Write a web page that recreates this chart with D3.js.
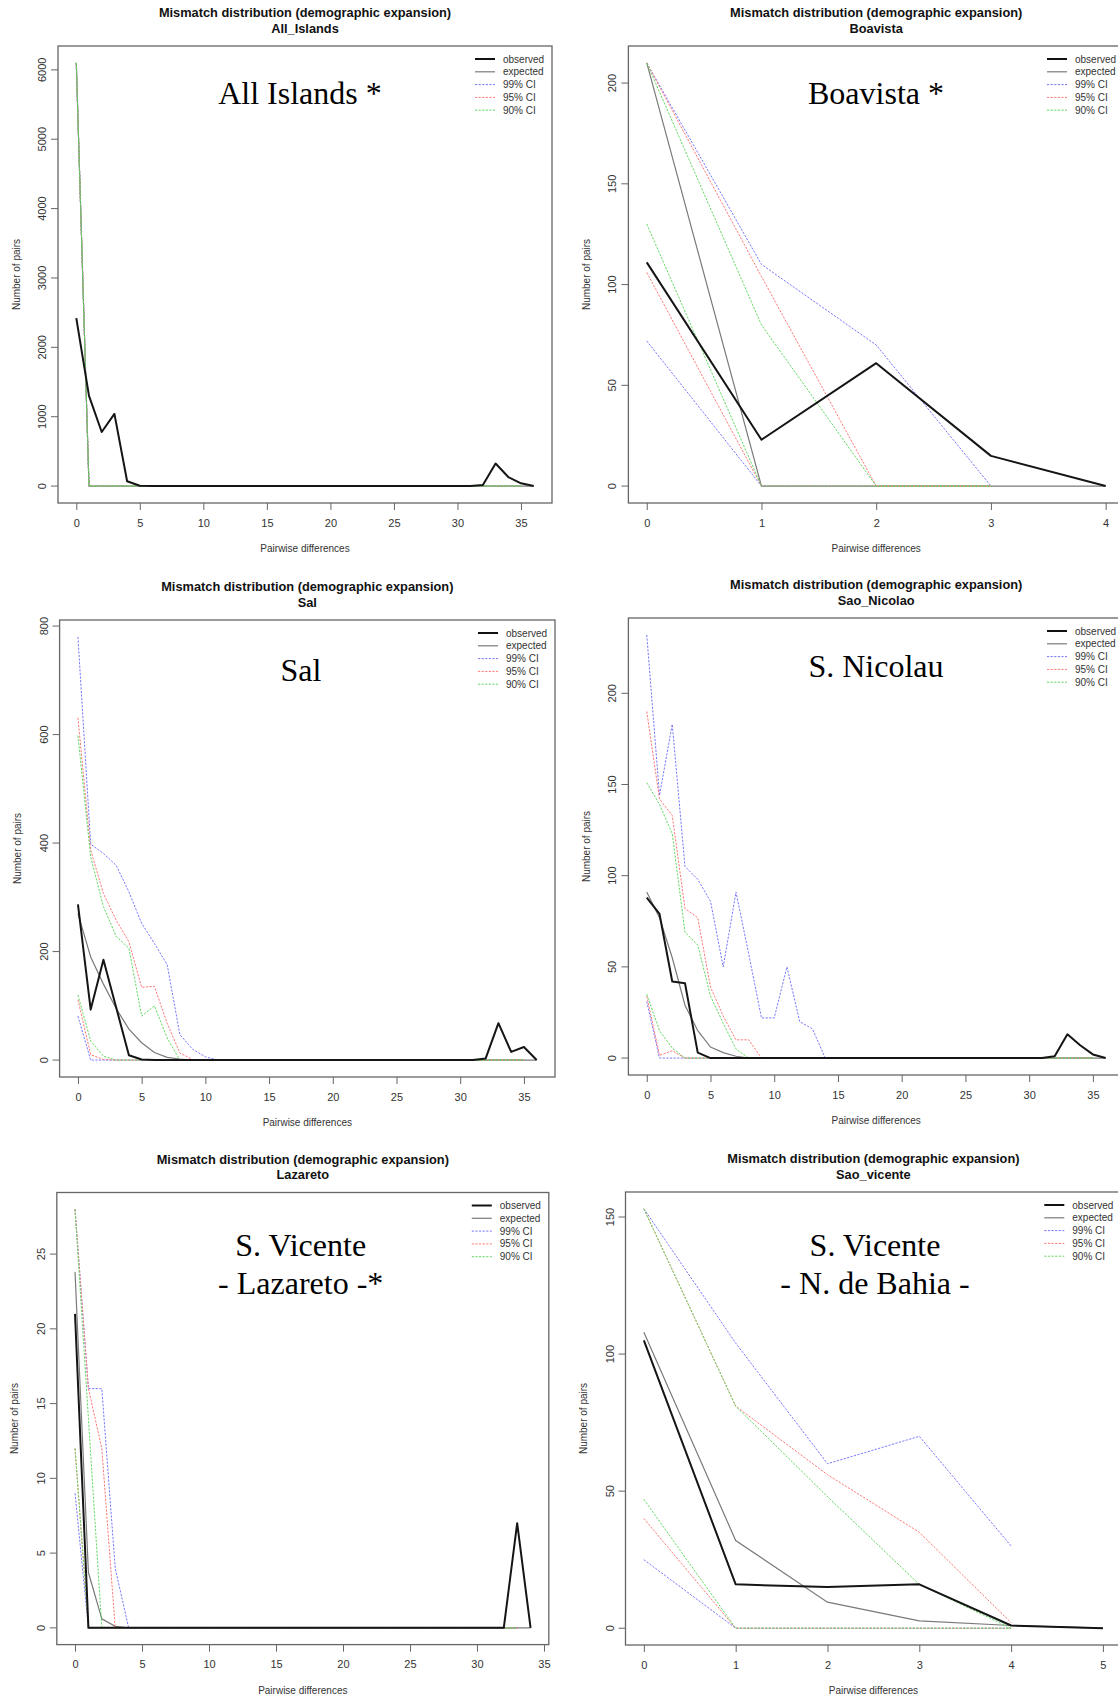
<!DOCTYPE html>
<html><head><meta charset="utf-8">
<script src="https://cdn.jsdelivr.net/npm/d3@7"></script>
<style>body{margin:0;background:#fff}</style>
</head><body>
<svg id="c" width="1118" height="1704"></svg>
<script>
// ---------------- DATA ----------------
const plotTitle = "Mismatch distribution (demographic expansion)";
const xAxisTitle = "Pairwise differences";
const yAxisTitle = "Number of pairs";
const legendLabels = ["observed", "expected", "99% CI", "95% CI", "90% CI"];
const panelNames = ["All_Islands", "Boavista", "Sal", "Sao_Nicolao", "Lazareto", "Sao_vicente"];
const panelAnnotations = [["All Islands *"], ["Boavista *"], ["Sal"], ["S. Nicolau"], ["S. Vicente", "- Lazareto -*"], ["S. Vicente", "- N. de Bahia -"]];

// All_Islands
const allObserved = [2420,1300,780,1040,70,5, 0,0,0,0,0,0,0,0,0,0, 0,0,0,0,0,0,0,0,0,0, 0,0,0,0,0,0, 15,325,130,40,0];
const allExpected = [6100, 0,0,0,0,0,0,0,0,0,0, 0,0,0,0,0,0,0,0,0,0, 0,0,0,0,0,0,0,0,0,0, 0,0,0,0,0,0];
const allCI = [6100, 0,0,0,0,0,0,0,0,0,0, 0,0,0,0,0,0,0,0,0,0, 0,0,0,0,0,0,0,0,0,0, 0,0,0,0,0];
const allXTicks = [0,5,10,15,20,25,30,35];
const allYTicks = [0,1000,2000,3000,4000,5000,6000];

// Boavista
const boaObserved = [111,23,61,15,0];
const boaExpected = [210,0,0,0,0];
const boaCI99Upper = [210,110,70,0];
const boaCI99Lower = [72,0,0,0];
const boaCI95Upper = [210,104,0,0];
const boaCI95Lower = [106,0,0,0];
const boaCI90Upper = [210,80,0,0];
const boaCI90Lower = [130,0,0,0];
const boaXTicks = [0,1,2,3,4];
const boaYTicks = [0,50,100,150,200];

// Sal
const salObserved = [287,93,185,97,9,1, 0,0,0,0,0,0,0,0,0,0, 0,0,0,0,0,0,0,0,0,0, 0,0,0,0,0,0, 3,68,15,24,0];
const salExpected = [270,190,140,95,57,32,14,5,2,0, 0,0,0,0,0,0,0,0,0,0, 0,0,0,0,0,0,0,0,0,0, 0,0,0,0,0,0,0];
const salCI99Upper = [780,398,381,359,310,252,215,176,47,20,6,0, 0,0,0,0,0,0,0,0,0,0, 0,0,0,0,0,0,0,0,0,0, 0,0,0,0];
const salCI99Lower = [81, 0,0,0,0,0,0,0,0,0,0, 0,0,0,0,0,0,0,0,0,0, 0,0,0,0,0,0,0,0,0,0, 0,0,0,0,0];
const salCI95Upper = [631,387,307,258,218,134,136,68,13,1,0, 0,0,0,0,0,0,0,0,0,0, 0,0,0,0,0,0,0,0,0,0, 0,0,0,0,0];
const salCI95Lower = [111,10,1, 0,0,0,0,0,0,0,0,0,0, 0,0,0,0,0,0,0,0,0,0, 0,0,0,0,0,0,0,0,0,0, 0,0,0];
const salCI90Upper = [598,374,283,228,206,81,100,41,0, 0,0,0,0,0,0,0,0,0,0, 0,0,0,0,0,0,0,0,0,0, 0,0,0,0,0,0,0];
const salCI90Lower = [120,35,7, 0,0,0,0,0,0,0,0,0,0, 0,0,0,0,0,0,0,0,0,0, 0,0,0,0,0,0,0,0,0,0, 0,0,0];
const salXTicks = [0,5,10,15,20,25,30,35];
const salYTicks = [0,200,400,600,800];

// Sao_Nicolao
const nicObserved = [88,79,42,41,3,0, 0,0,0,0,0,0,0,0,0,0, 0,0,0,0,0,0,0,0,0,0, 0,0,0,0,0,0, 1,13,7,2,0];
const nicExpected = [91,77,55,29,15,6,3,1,0, 0,0,0,0,0,0,0,0,0,0, 0,0,0,0,0,0,0,0,0,0, 0,0,0,0,0,0,0,0];
const nicCI99Upper = [232,144,183,105,98,86,50,91,57,22,22,50,20,16,0, 0,0,0,0,0,0,0,0,0,0, 0,0,0,0,0,0,0,0,0,0, 0];
const nicCI99Lower = [31, 0,0,0,0,0,0,0,0,0,0, 0,0,0,0,0,0,0,0,0,0, 0,0,0,0,0,0,0,0,0,0, 0,0,0,0,0];
const nicCI95Upper = [190,142,133,82,77,39,23,10,10,0, 0,0,0,0,0,0,0,0,0,0, 0,0,0,0,0,0,0,0,0,0, 0,0,0,0,0,0];
const nicCI95Lower = [34,1.5,4,0, 0,0,0,0,0,0,0,0,0,0, 0,0,0,0,0,0,0,0,0,0, 0,0,0,0,0,0,0,0,0,0, 0,0];
const nicCI90Upper = [151,139,123,69,62,34,19,5,0, 0,0,0,0,0,0,0,0,0,0, 0,0,0,0,0,0,0,0,0,0, 0,0,0,0,0,0,0];
const nicCI90Lower = [35,15,5.5,0, 0,0,0,0,0,0,0,0,0,0, 0,0,0,0,0,0,0,0,0,0, 0,0,0,0,0,0,0,0,0,0, 0,0];
const nicXTicks = [0,5,10,15,20,25,30,35];
const nicYTicks = [0,50,100,150,200];

// Lazareto
const lazObserved = [21, 0,0,0,0,0,0,0,0,0,0, 0,0,0,0,0,0,0,0,0,0, 0,0,0,0,0,0,0,0,0,0, 0,0, 7,0];
const lazExpected = [23.8,3.7,0.6,0.1, 0,0,0,0,0,0,0,0,0,0, 0,0,0,0,0,0,0,0,0,0, 0,0,0,0,0,0,0,0,0,0, 0];
const lazCI99Upper = [28,16,16,4, 0,0,0,0,0,0,0,0,0,0, 0,0,0,0,0,0,0,0,0,0, 0,0,0,0,0,0,0,0,0,0];
const lazCI99Lower = [9, 0,0,0,0,0,0,0,0,0,0, 0,0,0,0,0,0,0,0,0,0, 0,0,0,0,0,0,0,0,0,0, 0,0,0];
const lazCI95Upper = [28,16,12, 0,0,0,0,0,0,0,0,0,0, 0,0,0,0,0,0,0,0,0,0, 0,0,0,0,0,0,0,0,0,0, 0];
const lazCI95Lower = [12, 0,0,0,0,0,0,0,0,0,0, 0,0,0,0,0,0,0,0,0,0, 0,0,0,0,0,0,0,0,0,0, 0,0,0];
const lazCI90Upper = [28,14, 0,0,0,0,0,0,0,0,0,0, 0,0,0,0,0,0,0,0,0,0, 0,0,0,0,0,0,0,0,0,0, 0,0];
const lazCI90Lower = [12, 0,0,0,0,0,0,0,0,0,0, 0,0,0,0,0,0,0,0,0,0, 0,0,0,0,0,0,0,0,0,0, 0,0,0];
const lazXTicks = [0,5,10,15,20,25,30,35];
const lazYTicks = [0,5,10,15,20,25];

// Sao_vicente
const svObserved = [105,16,15,16,1,0];
const svExpected = [108,32,9.5,2.7,1,0];
const svCI99Upper = [153,104,60,70,30];
const svCI99Lower = [25,0,0,0,0];
const svCI95Upper = [153,81,56,35,2];
const svCI95Lower = [40,0,0,0,0];
const svCI90Upper = [153,81,48,16,0];
const svCI90Lower = [47,0,0,0,0];
const svXTicks = [0,1,2,3,4,5];
const svYTicks = [0,50,100,150];

// ---------------- LAYOUT / STYLE ----------------
const ciColors = ["#7878ff", "#ff7878", "#62d862"];
const panels = [
  {box:[58,46,552,503], ann:[300,103.6], obs:allObserved, exp:allExpected,
   ci:[[allCI,allCI],[allCI,allCI],[allCI,allCI]], xt:allXTicks, yt:allYTicks},
  {box:[628.4,46,1124,503], ann:[876,103.6], obs:boaObserved, exp:boaExpected,
   ci:[[boaCI99Upper,boaCI99Lower],[boaCI95Upper,boaCI95Lower],[boaCI90Upper,boaCI90Lower]], xt:boaXTicks, yt:boaYTicks},
  {box:[59.6,620,555,1077], ann:[301,681.4], obs:salObserved, exp:salExpected,
   ci:[[salCI99Upper,salCI99Lower],[salCI95Upper,salCI95Lower],[salCI90Upper,salCI90Lower]], xt:salXTicks, yt:salYTicks},
  {box:[628.4,618,1124,1075], ann:[876,677], obs:nicObserved, exp:nicExpected,
   ci:[[nicCI99Upper,nicCI99Lower],[nicCI95Upper,nicCI95Lower],[nicCI90Upper,nicCI90Lower]], xt:nicXTicks, yt:nicYTicks},
  {box:[56.8,1192.5,548.8,1644.6], ann:[300.7,1256], obs:lazObserved, exp:lazExpected,
   ci:[[lazCI99Upper,lazCI99Lower],[lazCI95Upper,lazCI95Lower],[lazCI90Upper,lazCI90Lower]], xt:lazXTicks, yt:lazYTicks},
  {box:[625.5,1192,1121.3,1645], ann:[875,1256], obs:svObserved, exp:svExpected,
   ci:[[svCI99Upper,svCI99Lower],[svCI95Upper,svCI95Lower],[svCI90Upper,svCI90Lower]], xt:svXTicks, yt:svYTicks}
];

const svg = d3.select("#c");
const sans = "'Liberation Sans', Arial, sans-serif";
const serif = "'Liberation Serif', 'Times New Roman', serif";

panels.forEach((p, i) => {
  const [L, T, R, B] = p.box;
  const g = svg.append("g");
  const xMax = p.obs.length - 1;
  const allVals = [p.obs, p.exp].concat(p.ci.flat()).flat();
  const yMax = d3.max(allVals);
  const x = d3.scaleLinear().domain([-0.04 * xMax, xMax * 1.04]).range([L, R]);
  const y = d3.scaleLinear().domain([-0.04 * yMax, yMax * 1.04]).range([B, T]);

  const clipId = "clip" + i;
  g.append("clipPath").attr("id", clipId).append("rect")
    .attr("x", L).attr("y", T).attr("width", R - L).attr("height", B - T);

  const line = d3.line().x((d, k) => x(k)).y(d => y(d));
  const plot = g.append("g").attr("clip-path", `url(#${clipId})`);

  plot.append("path").attr("d", line(p.exp)).attr("fill", "none")
    .attr("stroke", "#7a7a7a").attr("stroke-width", 1.2);
  p.ci.forEach((pair, c) => {
    pair.forEach(arr => {
      plot.append("path").attr("d", line(arr)).attr("fill", "none")
        .attr("stroke", ciColors[c]).attr("stroke-width", 1)
        .attr("stroke-dasharray", "2.2,1.4");
    });
  });
  plot.append("path").attr("d", line(p.obs)).attr("fill", "none")
    .attr("stroke", "#151515").attr("stroke-width", 2).attr("stroke-linejoin", "round");

  // box
  g.append("rect").attr("x", L).attr("y", T).attr("width", R - L).attr("height", B - T)
    .attr("fill", "none").attr("stroke", "#666").attr("stroke-width", 1.3);

  // x axis
  const xa = g.append("g").attr("transform", `translate(0,${B})`)
    .call(d3.axisBottom(x).tickValues(p.xt).tickSize(7).tickPadding(9).tickFormat(d3.format("d")));
  xa.select(".domain").remove();
  xa.selectAll("line").attr("stroke", "#666");
  xa.selectAll("text").attr("font-family", sans).attr("font-size", 11).attr("fill", "#333");

  // y axis (rotated labels, like R)
  const ya = g.append("g");
  ya.selectAll("line").data(p.yt).join("line")
    .attr("x1", L).attr("x2", L - 7).attr("y1", d => y(d)).attr("y2", d => y(d))
    .attr("stroke", "#666");
  ya.selectAll("text").data(p.yt).join("text")
    .attr("transform", d => `translate(${L - 16},${y(d)}) rotate(-90)`)
    .attr("text-anchor", "middle").attr("dominant-baseline", "central")
    .attr("font-family", sans).attr("font-size", 11).attr("fill", "#333")
    .text(d => d);

  // titles
  const cx = (L + R) / 2;
  g.append("text").attr("x", cx).attr("y", T - 29).attr("text-anchor", "middle")
    .attr("font-family", sans).attr("font-weight", "bold").attr("font-size", 12.8).attr("fill", "#111")
    .text(plotTitle);
  g.append("text").attr("x", cx).attr("y", T - 13.5).attr("text-anchor", "middle")
    .attr("font-family", sans).attr("font-weight", "bold").attr("font-size", 12.8).attr("fill", "#111")
    .text(panelNames[i]);
  g.append("text").attr("x", cx).attr("y", B + 49).attr("text-anchor", "middle")
    .attr("font-family", sans).attr("font-size", 10).attr("fill", "#333")
    .text(xAxisTitle);
  g.append("text").attr("transform", `translate(${L - 42},${(T + B) / 2}) rotate(-90)`)
    .attr("text-anchor", "middle").attr("dominant-baseline", "central")
    .attr("font-family", sans).attr("font-size", 10).attr("fill", "#333")
    .text(yAxisTitle);

  // legend
  const leg = g.append("g");
  const styles = [
    {c: "#111", w: 2, dash: null},
    {c: "#7a7a7a", w: 1.2, dash: null},
    {c: ciColors[0], w: 1, dash: "2.2,1.4"},
    {c: ciColors[1], w: 1, dash: "2.2,1.4"},
    {c: ciColors[2], w: 1, dash: "2.2,1.4"}
  ];
  legendLabels.forEach((lab, k) => {
    const ly = T + 13 + k * 12.8;
    leg.append("line").attr("x1", R - 77).attr("x2", R - 57).attr("y1", ly).attr("y2", ly)
      .attr("stroke", styles[k].c).attr("stroke-width", styles[k].w)
      .attr("stroke-dasharray", styles[k].dash);
    leg.append("text").attr("x", R - 49).attr("y", ly).attr("dominant-baseline", "central")
      .attr("font-family", sans).attr("font-size", 10).attr("fill", "#333").text(lab);
  });

  // annotation
  panelAnnotations[i].forEach((t, k) => {
    g.append("text").attr("x", p.ann[0]).attr("y", p.ann[1] + k * 38)
      .attr("text-anchor", "middle").attr("font-family", serif).attr("font-size", 32)
      .attr("fill", "#000").text(t);
  });
});
</script>
</body></html>
